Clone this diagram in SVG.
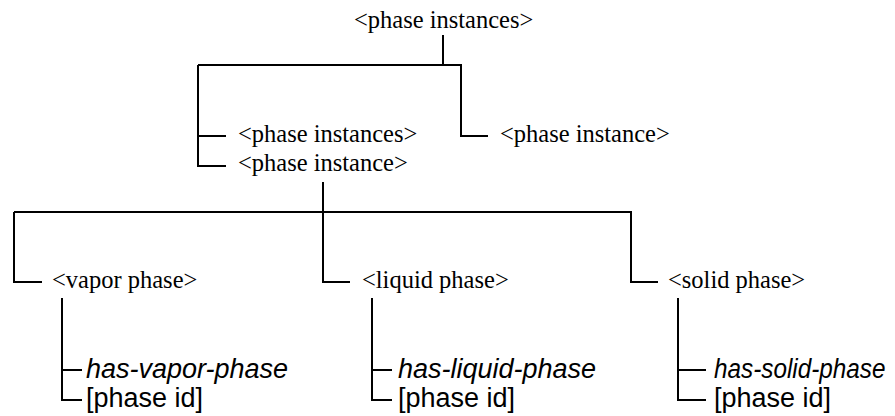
<svg xmlns="http://www.w3.org/2000/svg" width="895" height="416" viewBox="0 0 895 416">
<style>
.t{font-family:"Liberation Serif","Times New Roman",serif;font-size:24.5px;fill:#000}
.a{font-family:"Liberation Sans",Arial,sans-serif;font-size:27px;fill:#000}
.i{font-style:italic}
.c{fill:none;stroke:#000;stroke-width:2}
</style>
<rect width="895" height="416" fill="#fff"/>
<g id="connectors">
<path class="c" d="M443,35V65M198,65H461V136H488M198,65V166H226M198,136H226"/>
<path class="c" d="M323,182V212M14,212H631V282H658M14,212V282H42M323,212V282H350"/>
<path class="c" d="M62,298V400H82M62,370H82"/>
<path class="c" d="M372,298V400H392M372,370H392"/>
<path class="c" d="M678,298V400H706M678,370H706"/>
</g>
<g id="n-root"><text class="t" x="354" y="28">&lt;phase instances&gt;</text></g>
<g id="n-instances"><text class="t" x="238" y="142">&lt;phase instances&gt;</text></g>
<g id="n-instance-left"><text class="t" x="238" y="171">&lt;phase instance&gt;</text></g>
<g id="n-instance-right"><text class="t" x="500" y="142">&lt;phase instance&gt;</text></g>
<g id="n-vapor"><text class="t" x="52" y="288">&lt;vapor phase&gt;</text></g>
<g id="n-liquid"><text class="t" x="362" y="288">&lt;liquid phase&gt;</text></g>
<g id="n-solid"><text class="t" x="668" y="288">&lt;solid phase&gt;</text></g>
<g id="n-vapor-attr"><text class="a i" x="86" y="378">has-vapor-phase</text><text class="a" x="86" y="407">[phase id]</text></g>
<g id="n-liquid-attr"><text class="a i" x="398" y="378">has-liquid-phase</text><text class="a" x="398" y="407">[phase id]</text></g>
<g id="n-solid-attr"><text class="a i" transform="translate(714,378) scale(0.9,1)">has-solid-phase</text><text class="a" x="714" y="407">[phase id]</text></g>
</svg>
